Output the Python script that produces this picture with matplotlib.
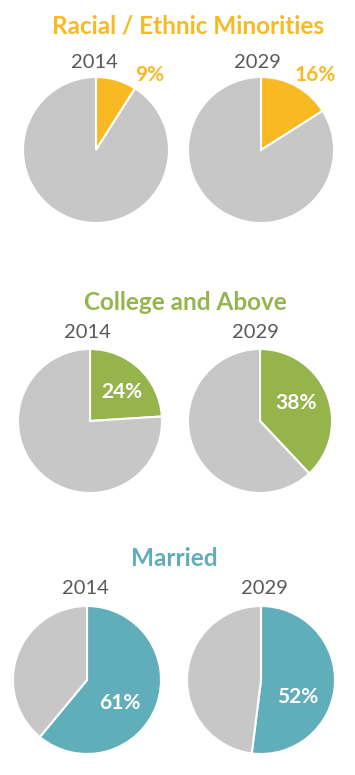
import matplotlib.pyplot as plt

W, H = 355, 775

titles = ["Racial / Ethnic Minorities", "College and Above", "Married"]
years = ["2014", "2029"]
shares = [[9, 16], [24, 38], [61, 52]]
colors = ["#F8B922", "#95B44C", "#61AEBB"]
grey = "#C6C7C6"
text_grey = "#58595B"

# layout in pixels (x center, y center, radius) for each pie
pie_pos = [
    [(96, 150, 73), (261, 150, 73)],
    [(90, 421, 72), (260, 421, 72)],
    [(87, 680, 74), (261, 680, 74)],
]
title_pos = [(188, 26), (185, 303), (174, 558)]
year_pos = [[(94, 62), (257, 62)], [(87, 332), (255, 332)], [(85, 588), (264, 588)]]
# label offsets relative to pie radius, and whether label is white
label_off = [[(0.74, 1.03), (0.74, 1.03)], [(0.44, 0.40), (0.50, 0.25)], [(0.44, -0.31), (0.49, -0.23)]]
label_white = [False, True, True]

plt.rcParams["font.family"] = ["Lato", "DejaVu Sans"]
fig = plt.figure(figsize=(W / 100, H / 100), dpi=100)


def fx(x):
    return x / W


def fy(y):
    return 1 - y / H


for i, title in enumerate(titles):
    tx, ty = title_pos[i]
    fig.text(fx(tx), fy(ty), title, ha="center", va="center", fontsize=17.5,
             fontweight="bold", color=colors[i])
    for j, year in enumerate(years):
        cx, cy, r = pie_pos[i][j]
        ax = fig.add_axes([fx(cx - r), fy(cy + r), 2 * r / W, 2 * r / H])
        p = shares[i][j]
        wedges, _ = ax.pie([p, 100 - p], colors=[colors[i], grey], startangle=90, counterclock=False,
                           radius=1, wedgeprops=dict(edgecolor="white", linewidth=1.5))
        for w in wedges:
            w.set_clip_on(False)
        ax.set_xlim(-1, 1)
        ax.set_ylim(-1, 1)
        ax.set_aspect("equal")
        ax.axis("off")
        dx, dy = label_off[i][j]
        ax.text(dx, dy, f"{p}%", ha="center", va="center", fontsize=15, fontweight="bold",
                color="white" if label_white[i] else colors[i], clip_on=False)
        yx, yy = year_pos[i][j]
        fig.text(fx(yx), fy(yy), year, ha="center", va="center", fontsize=14.5, color=text_grey)

fig.savefig("out.png", dpi=100)
